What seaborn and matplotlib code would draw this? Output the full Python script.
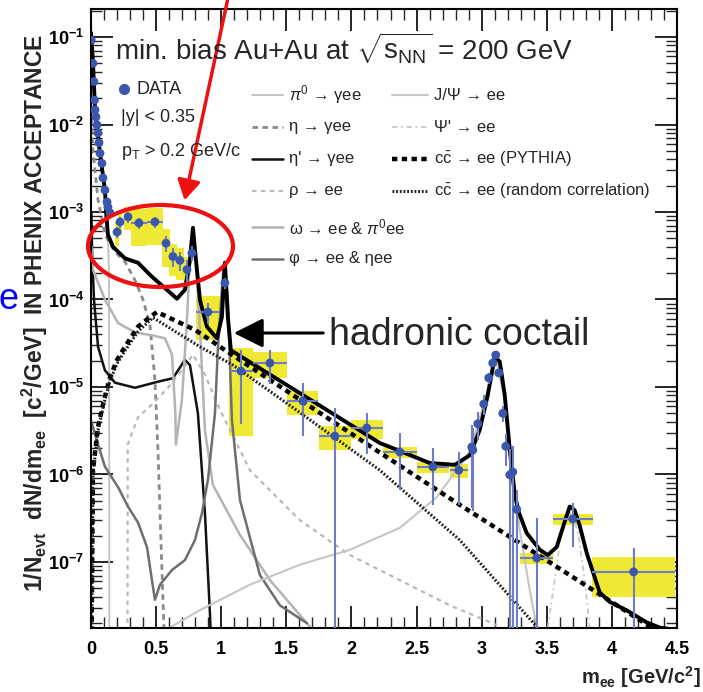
import numpy as np
import pandas as pd
import seaborn as sns
import matplotlib
matplotlib.use("Agg")
import matplotlib.pyplot as plt
import matplotlib.ticker as mticker
from matplotlib.patches import Ellipse, FancyArrowPatch
from matplotlib.lines import Line2D

# ---------------- measured e+e- pairs ----------------
mass = [0.002, 0.015, 0.022, 0.027, 0.031, 0.038, 0.046, 0.054, 0.061, 0.069, 0.084, 0.092,
        0.107, 0.123, 0.130, 0.146,
        0.200, 0.223, 0.284, 0.368, 0.491, 0.576, 0.629, 0.683, 0.737, 0.775,
        0.898, 1.028, 1.151, 1.374, 1.627, 1.873, 2.118, 2.371, 2.625, 2.824,
        2.924, 2.932, 2.970, 3.016, 3.054, 3.085, 3.108, 3.131, 3.162, 3.185,
        3.216, 3.239, 3.269, 3.423, 3.699, 4.167]
yield_ee = [0.092, 0.050, 0.031, 0.019, 0.0147, 0.0122, 0.0099, 0.0080, 0.0062, 0.0047, 0.0036, 0.00245,
            0.00178, 0.0013, 0.00114, 0.00098,
            5.9e-4, 7.7e-4, 8.8e-4, 7.5e-4, 7.7e-4, 4.4e-4, 3.1e-4, 2.8e-4, 2.2e-4, 3.4e-4,
            7.2e-5, 1.55e-4, 1.52e-5, 1.88e-5, 6.9e-6, 2.75e-6, 3.4e-6, 1.81e-6, 1.22e-6, 1.12e-6,
            2.06e-6, 1.9e-6, 3.8e-6, 6.4e-6, 1.27e-5, 1.88e-5, 2.32e-5, 1.45e-5, 5.0e-6, 2.1e-6,
            9.9e-7, 1.07e-6, 4.0e-7, 1.11e-7, 3.1e-7, 7.7e-8]
bin_half = [0.002] * 16 + \
           [0.015, 0.015, 0.03, 0.06, 0.06, 0.03, 0.03, 0.03, 0.025, 0.015,
            0.095, 0.02, 0.095, 0.13, 0.12, 0.125, 0.125, 0.13, 0.125, 0.07,
            0.015, 0.015, 0.015, 0.015, 0.015, 0.015, 0.015, 0.015, 0.015, 0.015,
            0.015, 0.015, 0.015, 0.125, 0.155, 0.32]
stat_dn = [0.05] * 16 + \
          [0.15, 0.15, 0.15, 0.15, 0.15, 0.2, 0.25, 0.25, 0.3, 0.2,
           0.28, 0.15, 0.75, 0.42, 0.6, 1.0, 0.5, 0.63, 0.63, 0.6,
           0.8, 0.8, 0.35, 0.25, 0.15, 0.1, 0.08, 0.1, 0.2, 0.4,
           1.0, 1.0, 1.0, 1.0, 0.52, 0.9]
stat_up = [0.05] * 16 + \
          [0.15, 0.15, 0.15, 0.15, 0.15, 0.2, 0.25, 0.25, 0.3, 0.2,
           0.28, 0.15, 0.75, 0.42, 0.6, 1.1, 0.5, 0.63, 0.63, 0.6,
           0.8, 0.8, 0.35, 0.25, 0.15, 0.1, 0.08, 0.1, 0.2, 0.4,
           1.0, 1.0, 0.65, 1.9, 0.52, 0.88]
sys_frac = [0.0] * 16 + \
           [0.3, 0.3, 0.3, 0.45, 0.45, 0.47, 0.4, 0.4, 0.38, 0.0,
            0.52, 0.0, 0.82, 0.33, 0.3, 0.3, 0.25, 0.14, 0.15, 0.18,
            0.0, 0.0, 0.0, 0.0, 0.0, 0.0, 0.0, 0.0, 0.0, 0.0,
            0.0, 0.0, 0.15, 0.15, 0.15, 0.48]

# ---------------- hadronic cocktail components ----------------
total_m = [0.0, 0.015, 0.031, 0.069, 0.107, 0.118, 0.130, 0.169, 0.261, 0.361, 0.468, 0.568, 0.660,
           0.721, 0.760, 0.783, 0.806, 0.837, 0.890, 0.967, 1.005, 1.028, 1.051, 1.074, 1.604,
           2.218, 2.371, 2.602, 2.794, 2.909, 2.985, 3.047, 3.100, 3.139, 3.177, 3.216, 3.254,
           3.285, 3.346, 3.446, 3.507, 3.576, 3.638, 3.676, 3.714, 3.753, 3.807, 3.906, 3.983,
           4.114, 4.267, 4.367, 4.46]
total_y = [0.112, 0.052, 0.0148, 0.0047, 0.00178, 9.0e-4, 5.5e-4, 4.0e-4, 2.95e-4, 2.63e-4, 1.82e-4,
           1.35e-4, 1.02e-4, 1.29e-4, 2.82e-4, 6.6e-4, 2.82e-4, 9.8e-5, 4.9e-5, 3.6e-5, 6.3e-5,
           2.63e-4, 6.3e-5, 2.63e-5, 8.5e-6, 2.29e-6, 1.86e-6, 1.35e-6, 1.29e-6, 1.66e-6, 3.24e-6,
           8.1e-6, 2.19e-5, 1.95e-5, 8.1e-6, 1.91e-6, 5.9e-7, 3.7e-7, 2.14e-7, 1.38e-7, 1.2e-7,
           1.48e-7, 2.9e-7, 4.3e-7, 3.9e-7, 2.6e-7, 1.26e-7, 4.5e-8, 3.5e-8, 2.8e-8, 2.04e-8,
           1.78e-8, 1.7e-8]

pi0_m = [0.0, 0.015, 0.031, 0.069, 0.107, 0.125, 0.138, 0.140, 0.141]
pi0_y = [0.11, 0.05, 0.0145, 0.0045, 0.0017, 9e-4, 2e-4, 1e-6, 1e-9]

eta_m = [0.003, 0.015, 0.054, 0.107, 0.184, 0.261, 0.338, 0.399, 0.453, 0.491, 0.514, 0.537, 0.560]
eta_y = [1.2e-2, 5.1e-3, 1.38e-3, 5.5e-4, 3.5e-4, 2.7e-4, 1.66e-4, 1.0e-4, 5.1e-5, 1.2e-5,
         1.91e-6, 1.78e-7, 1.78e-8]

etap_m = [0.003, 0.008, 0.023, 0.054, 0.107, 0.184, 0.338, 0.514, 0.629, 0.721, 0.760, 0.821,
          0.875, 0.913, 0.925]
etap_y = [1.0e-3, 3.7e-4, 1.0e-4, 2.88e-5, 1.55e-5, 1.12e-5, 9.8e-6, 1.15e-5, 1.26e-5, 2.04e-5,
          1.78e-5, 5.0e-6, 3.6e-7, 2.63e-8, 1.0e-8]

rho_m = [0.280, 0.282, 0.361, 0.468, 0.591, 0.698, 0.783, 0.875, 0.990, 1.220, 1.604, 1.988,
         2.371, 2.755, 3.116]
rho_y = [1.0e-8, 2.2e-6, 4.5e-6, 6.3e-6, 9.8e-6, 1.55e-5, 2.34e-5, 1.38e-5, 5.5e-6, 1.12e-6,
         3.0e-7, 1.2e-7, 6.2e-8, 3.2e-8, 1.9e-8]

omega_m = [0.003, 0.015, 0.107, 0.207, 0.338, 0.468, 0.568, 0.622, 0.648, 0.652, 0.698, 0.737,
           0.767, 0.783, 0.806, 0.837, 0.875, 0.936, 1.144, 1.374, 1.681]
omega_y = [4.0e-4, 2.19e-4, 1.0e-4, 5.4e-5, 4.2e-5, 3.9e-5, 3.6e-5, 2.34e-5, 5e-6, 2.19e-6,
           7.1e-6, 5.9e-5, 4.8e-4, 5.5e-4, 2.82e-4, 4.5e-5, 3.2e-6, 7.6e-7, 2.04e-7, 6.2e-8, 1.82e-8]

phi_m = [0.003, 0.054, 0.107, 0.207, 0.284, 0.361, 0.430, 0.468, 0.491, 0.530, 0.622, 0.721,
         0.798, 0.852, 0.898, 0.952, 0.975, 1.005, 1.020, 1.035, 1.051, 1.082, 1.144, 1.297,
         1.450, 1.658]
phi_y = [4.0e-6, 2.2e-6, 1.23e-6, 7.2e-7, 4.3e-7, 2.82e-7, 1.48e-7, 6.2e-8, 3.7e-8, 5.5e-8,
         8.1e-8, 1.05e-7, 1.78e-7, 3.6e-7, 8.7e-7, 5.0e-6, 2.88e-5, 1.29e-4, 2.45e-4, 2.0e-4,
         9.8e-5, 4.2e-6, 5.1e-7, 7.1e-8, 3.2e-8, 2.0e-8]

jpsi_m = [0.606, 0.837, 1.220, 1.604, 1.988, 2.371, 2.655, 2.909, 3.024, 3.108, 3.177, 3.231,
          3.292, 3.369, 3.423]
jpsi_y = [1.78e-8, 2.82e-8, 5.5e-8, 9.3e-8, 1.38e-7, 2.45e-7, 5.5e-7, 1.82e-6, 7.1e-6, 2.14e-5,
          7.1e-6, 1.48e-6, 2.34e-7, 4.8e-8, 1.78e-8]

psi2_m = [3.507, 3.561, 3.615, 3.676, 3.737, 3.791, 3.830]
psi2_y = [1.78e-8, 6.2e-8, 2.34e-7, 3.7e-7, 2.34e-7, 6.2e-8, 1.78e-8]

ccbar_m = [0.005, 0.015, 0.054, 0.100, 0.146, 0.200, 0.261, 0.361, 0.453, 0.507, 0.798, 1.082,
           2.218, 2.832, 3.883, 4.367]
ccbar_y = [1.6e-8, 1.12e-6, 3.5e-6, 7.1e-6, 1.29e-5, 2.04e-5, 2.88e-5, 4.9e-5, 6.3e-5, 7.2e-5,
           4.5e-5, 2.34e-5, 1.78e-6, 4.5e-7, 4.5e-8, 1.55e-8]

ccrand_m = [0.005, 0.015, 0.054, 0.100, 0.146, 0.200, 0.261, 0.361, 0.476, 0.837, 1.090, 1.604,
            2.218, 2.832, 3.423]
ccrand_y = [1.6e-8, 1.0e-6, 3.2e-6, 6.5e-6, 1.18e-5, 1.85e-5, 2.6e-5, 4.3e-5, 6.2e-5, 2.88e-5,
            1.78e-5, 5.1e-6, 1.12e-6, 1.78e-7, 1.82e-8]

x_ticks = [0, 0.5, 1, 1.5, 2, 2.5, 3, 3.5, 4, 4.5]
y_decades = [1e-7, 1e-6, 1e-5, 1e-4, 1e-3, 1e-2, 1e-1]

# ---------------- style ----------------
sns.set_style("ticks")
plt.rcParams["font.family"] = ["Liberation Sans", "DejaVu Sans"]
plt.rcParams["mathtext.fontset"] = "custom"
plt.rcParams["mathtext.rm"] = "Liberation Sans"
plt.rcParams["mathtext.it"] = "Liberation Sans:italic"
plt.rcParams["mathtext.bf"] = "Liberation Sans:bold"

W, H = 703, 692
fig = plt.figure(figsize=(W / 100, H / 100), dpi=100)
ax = fig.add_axes([91 / W, 1 - 628 / H, 586 / W, 619 / H])
ax.set_yscale("log")
ax.set_xlim(0, 4.5)
ax.set_ylim(1.76e-8, 0.209)


def fx(px):
    return px / W


def fy(py):
    return 1 - py / H


YELLOW = "#efe934"
BLUE = "#3a56ad"
ERRC = "#6f7cc6"

# systematic boxes
data = pd.DataFrame(dict(m=mass, y=yield_ee, hw=bin_half, dn=stat_dn, up=stat_up, sys=sys_frac))
boxes = data[data.sys > 0]
ax.bar(boxes.m, boxes.y * 2 * boxes.sys, bottom=boxes.y * (1 - boxes.sys),
       width=2 * boxes.hw, color=YELLOW, edgecolor="none", zorder=1)

# cocktail curves
curves = [
    (pi0_m, pi0_y, "#c4c4c4", "-", 1.4, r"$\pi^0$ → γee"),
    (eta_m, eta_y, "#8a8a8a", (0, (2.0, 1.6)), 2.0, r"η → γee"),
    (etap_m, etap_y, "#111111", "-", 1.8, r"η' → γee"),
    (rho_m, rho_y, "#b9b9b9", (0, (2.0, 2.0)), 1.6, r"ρ → ee"),
    (omega_m, omega_y, "#b4b4b4", "-", 1.8, r"ω → ee & $\pi^0$ee"),
    (phi_m, phi_y, "#6e6e6e", "-", 1.8, r"φ → ee & ηee"),
    (jpsi_m, jpsi_y, "#c6c6c6", "-", 1.5, r"J/Ψ → ee"),
    (psi2_m, psi2_y, "#c8c8c8", (0, (3, 2, 1, 2)), 1.3, r"Ψ' → ee"),
    (ccbar_m, ccbar_y, "#000000", (0, (1.2, 1.0)), 3.2, r"c$\bar{\mathrm{c}}$ → ee (PYTHIA)"),
    (ccrand_m, ccrand_y, "#222222", (0, (0.6, 0.6)), 2.2, r"c$\bar{\mathrm{c}}$ → ee (random correlation)"),
]
for cm, cy, col, ls, lw, lab in curves:
    sns.lineplot(x=cm, y=cy, ax=ax, color=col, linestyle=ls, linewidth=lw,
                 estimator=None, sort=False, zorder=2)
sns.lineplot(x=total_m, y=total_y, ax=ax, color="black", linewidth=2.8,
             estimator=None, sort=False, zorder=2.5)

# statistical error bars
lo = np.maximum(data.y * (1 - data.dn), 1e-10)
hi = data.y * (1 + data.up)
ax.errorbar(data.m, data.y, yerr=[data.y - lo, hi - data.y], xerr=data.hw,
            fmt="none", ecolor=ERRC, elinewidth=1.5, capsize=0, zorder=3)
sns.scatterplot(x=data.m, y=data.y, ax=ax, color=BLUE, s=40, edgecolor="none",
                zorder=4, legend=False)

# axes cosmetics
ax.set_xlabel("")
ax.set_ylabel(r"$\mathbf{1/N_{evt}\ \ dN/dm_{ee}\ \ [c^2/GeV]}$  IN PHENIX ACCEPTANCE",
              fontsize=16.5, fontweight="bold")
ax.yaxis.set_label_coords(-0.070, 0.509)
ax.xaxis.set_major_locator(mticker.FixedLocator(x_ticks))
ax.xaxis.set_minor_locator(mticker.FixedLocator(
    [t / 10 for t in range(0, 46) if t % 5 != 0]))
ax.xaxis.set_major_formatter(mticker.FuncFormatter(lambda v, p: "%g" % v))
ax.yaxis.set_major_locator(mticker.FixedLocator(y_decades))
y_minor = [d * k for d in [1e-8] + y_decades for k in range(2, 10)]
y_minor = [v for v in y_minor if 1.76e-8 <= v <= 0.209]
ax.yaxis.set_minor_locator(mticker.FixedLocator(y_minor))
ax.yaxis.set_major_formatter(mticker.FuncFormatter(
    lambda v, p: r"$\mathbf{10^{%d}}$" % int(round(np.log10(v)))))
ax.yaxis.set_minor_formatter(mticker.NullFormatter())
ax.tick_params(which="major", direction="in", length=16, width=1.2, top=True, right=True,
               labelsize=13, colors="black")
ax.tick_params(which="minor", direction="in", length=8, width=1.0, top=True, right=True)
ax.tick_params(axis="x", pad=9)
ax.tick_params(axis="y", pad=5)
for lab in ax.get_xticklabels() + ax.get_yticklabels():
    lab.set_fontweight("bold")
for s in ax.spines.values():
    s.set_linewidth(1.5)
    s.set_color("black")

fig.text(fx(701), fy(677), r"$\mathbf{m_{ee}}$ [GeV/c$^\mathbf{2}$]", fontsize=14.5,
         fontweight="bold", ha="right", va="center")

# title and legend block
fig.text(fx(115), fy(48), r"min. bias Au+Au at $\sqrt{\mathrm{s}_{\mathrm{NN}}}$ = 200 GeV",
         fontsize=20, ha="left", va="center")
fig.add_artist(Line2D([fx(124)], [fy(89)], marker="o", markersize=7, color=BLUE,
                      linestyle="none", transform=fig.transFigure))
fig.text(fx(137), fy(89), "DATA", fontsize=13, ha="left", va="center")
fig.text(fx(121), fy(117), "|y| < 0.35", fontsize=13, ha="left", va="center")
fig.text(fx(121), fy(152), r"p$_\mathrm{T}$ > 0.2 GeV/c", fontsize=13, ha="left", va="center")

rows1 = [95, 127, 159, 191, 227, 259]
rows2 = [95, 127, 159, 191]
for (cm, cy, col, ls, lw, lab), ry in zip(curves[:6], rows1):
    fig.add_artist(Line2D([fx(252), fx(283)], [fy(ry), fy(ry)], color=col, linestyle=ls,
                          linewidth=lw, transform=fig.transFigure))
    fig.text(fx(289), fy(ry), lab, fontsize=12, ha="left", va="center")
for (cm, cy, col, ls, lw, lab), ry in zip(curves[6:], rows2):
    fig.add_artist(Line2D([fx(392), fx(428)], [fy(ry), fy(ry)], color=col, linestyle=ls,
                          linewidth=lw, transform=fig.transFigure))
    fig.text(fx(434), fy(ry), lab, fontsize=12, ha="left", va="center")

# slide annotations
fig.add_artist(Ellipse((fx(160.5), fy(246)), 145 / W, 82 / H, transform=fig.transFigure,
                       fill=False, edgecolor="#ee1111", linewidth=3))
fig.add_artist(FancyArrowPatch((fx(228), fy(-2)), (fx(184), fy(203)), transform=fig.transFigure,
                               arrowstyle="-|>,head_length=6,head_width=3.5", color="#ee1111",
                               linewidth=2.5, mutation_scale=2))
fig.add_artist(FancyArrowPatch((fx(326), fy(333)), (fx(231), fy(333)), transform=fig.transFigure,
                               arrowstyle="-|>,head_length=9,head_width=4.5", color="black",
                               linewidth=2.2, mutation_scale=2))
fig.text(fx(329), fy(335), "hadronic coctail", fontsize=27, ha="left", va="center")
fig.text(fx(19), fy(300), "e", fontsize=26, color="#0000ff", ha="right", va="center")

fig.savefig("out.png", dpi=100)
